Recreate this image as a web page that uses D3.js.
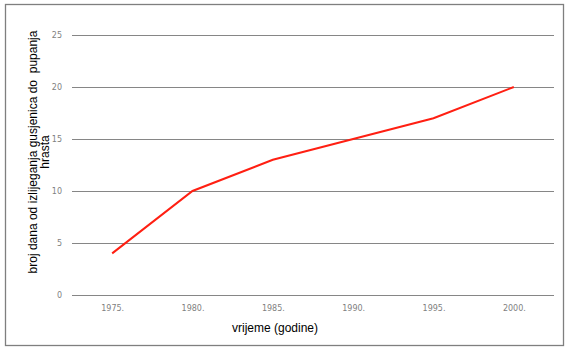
<!DOCTYPE html>
<html>
<head>
<meta charset="utf-8">
<script src="https://cdn.jsdelivr.net/npm/d3@7"></script>
<style>
  body { margin: 0; background: #fff; }
  .axis text { font-family: "DejaVu Sans", Verdana, sans-serif; font-size: 8px; fill: #7f7f7f; }
  .title { font-family: "Liberation Sans", Arial, sans-serif; font-size: 12px; fill: #000; }
</style>
</head>
<body>
<div id="chart"></div>
<script>
// data
const years = ['1975.', '1980.', '1985.', '1990.', '1995.', '2000.'];
const days = [4, 10, 13, 15, 17, 20];
const yTicks = [0, 5, 10, 15, 20, 25];

const W = 571, H = 351;
const margin = {t: 35, r: 17, b: 56, l: 72};
const w = W - margin.l - margin.r;
const h = H - margin.t - margin.b;

const svg = d3.select('#chart').append('svg')
    .attr('width', W)
    .attr('height', H);

// outer frame
svg.append('rect')
    .attr('x', 5.5).attr('y', 4.5)
    .attr('width', 558).attr('height', 341)
    .attr('fill', 'none')
    .attr('stroke', '#7f7f7f')
    .attr('stroke-width', 1.3);

const plot = svg.append('g')
    .attr('transform', `translate(${margin.l},${margin.t})`);

const scaleX = d3.scalePoint()
    .domain(years)
    .range([0, w])
    .padding(0.5);

const scaleY = d3.scaleLinear()
    .domain([0, 25])
    .range([h, 0]);

// gridlines + y labels
const axisY = d3.axisLeft(scaleY)
    .tickValues(yTicks)
    .tickSize(-w)
    .tickPadding(10);

plot.append('g')
    .attr('class', 'axis axis-y')
    .call(axisY)
    .call(g => g.select('.domain').remove())
    .call(g => g.selectAll('line').attr('stroke', '#868686').attr('stroke-width', 1));

const axisX = d3.axisBottom(scaleX)
    .tickSize(0)
    .tickPadding(10);

plot.append('g')
    .attr('class', 'axis axis-x')
    .attr('transform', `translate(0,${h})`)
    .call(axisX)
    .call(g => g.select('.domain').remove());

// the line
const line = d3.line()
    .x((d, i) => scaleX(years[i]))
    .y(d => scaleY(d));

plot.append('path')
    .datum(days)
    .attr('fill', 'none')
    .attr('stroke', '#ff1f12')
    .attr('stroke-width', 2)
    .attr('d', line);

// axis titles
svg.append('text')
    .attr('class', 'title')
    .attr('x', 275).attr('y', 332)
    .attr('text-anchor', 'middle')
    .text('vrijeme (godine)');

const yTitle = svg.append('text')
    .attr('class', 'title')
    .attr('transform', 'translate(37,152) rotate(-90)')
    .attr('text-anchor', 'middle');
yTitle.append('tspan').attr('x', 0).attr('dy', 0).text('broj dana od izlijeganja gusjenica do\u00a0 pupanja');
yTitle.append('tspan').attr('x', 0).attr('dy', 12).text('hrasta');
</script>
</body>
</html>
